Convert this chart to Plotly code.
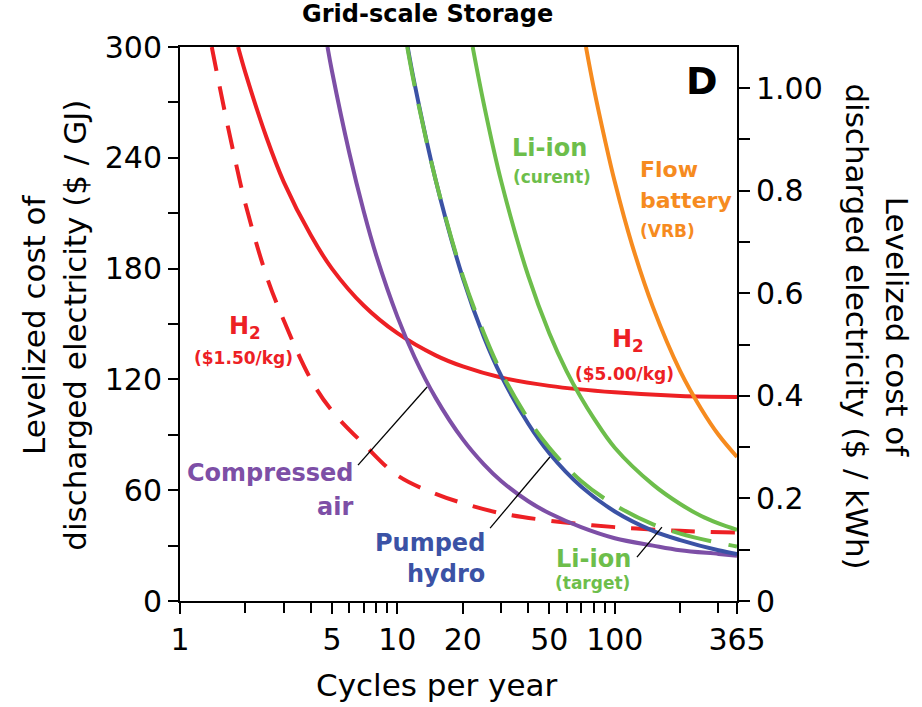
import math
import plotly.graph_objects as go

# ---------------- data ----------------
h2_low_cycles = [1.4, 1.6, 1.8, 2.0, 2.5, 3, 4, 5, 7, 10, 15, 20, 30, 50, 100, 200, 365]
h2_low_cost = [300, 266, 238, 215, 176, 152, 120, 103, 85, 68, 58, 53, 47.5, 43.5, 40, 38, 37]

h2_high_cycles = [1.85, 2, 2.5, 3, 4, 5, 7, 10, 15, 20, 30, 50, 100, 200, 365]
h2_high_cost = [300, 286, 251, 227, 198, 180, 160, 145, 133, 127, 121, 116.5, 113, 111, 110.5]

caes_cycles = [4.77, 5, 6, 7, 8, 10, 12, 15, 20, 25, 30, 40, 50, 70, 100, 150, 200, 300, 365]
caes_cost = [300, 287, 243, 211, 187, 154, 132, 110, 87.5, 74, 65, 54, 47.5, 40, 34, 30, 27.5, 25.5, 24.5]

hydro_cycles = [11.15, 12, 15, 20, 25, 30, 40, 50, 70, 100, 150, 200, 300, 365]
hydro_cost = [300, 280, 228, 175, 143, 122, 96, 80, 62, 48.5, 38, 33, 27.5, 25.5]

li_target_cycles = [11.1, 12, 15, 20, 25, 30, 40, 50, 70, 100, 150, 200, 300, 365]
li_target_cost = [300, 279, 228, 176, 145, 124, 98.5, 83, 65, 52, 41.5, 36.5, 31.5, 29.5]

li_current_cycles = [22.2, 25, 30, 40, 50, 60, 70, 80, 100, 150, 200, 250, 300, 365]
li_current_cost = [300, 269, 227.5, 176, 145, 124.5, 110, 99, 83, 63, 52.5, 46, 42, 38.5]

flow_cycles = [73.7, 80, 90, 100, 120, 150, 200, 250, 300, 365]
flow_cost = [300, 278, 250, 227, 193, 159, 124.5, 104, 90, 78]

x_tick_vals = [1, 5, 10, 20, 50, 100, 365]
x_tick_text = ["1", "5", "10", "20", "50", "100", "365"]
x_minor_vals = [2, 3, 4, 6, 7, 8, 9, 30, 40, 60, 70, 80, 90, 200, 300]
y_tick_vals = [0, 60, 120, 180, 240, 300]
y2_tick_vals = [0, 0.2, 0.4, 0.6, 0.8, 1.0]
y2_tick_text = ["0", "0.2", "0.4", "0.6", "0.8", "1.00"]
GJ_PER_KWH = 1 / 277.78  # $/GJ -> $/kWh

# leader lines (data coords)
leader_caes = ([6.59, 13.7], [73.6, 115.9])
leader_hydro = ([26.7, 50.3], [39.5, 78])
leader_target = ([126.5, 164.8], [23.8, 40])

RED = "#ED2024"
PURPLE = "#7D4FA6"
BLUE = "#3B52A5"
GREEN = "#6DBE4B"
ORANGE = "#F68B1F"
FONT = "DejaVu Sans"

fig = go.Figure()

def curve(x, y, color, dash=None):
    fig.add_trace(go.Scatter(
        x=x, y=y, mode="lines", line=dict(color=color, width=4, shape="spline", dash=dash),
        showlegend=False, hoverinfo="skip"))

curve(h2_low_cycles, h2_low_cost, RED, "24px,16px")
curve(h2_high_cycles, h2_high_cost, RED)
curve(caes_cycles, caes_cost, PURPLE)
curve(hydro_cycles, hydro_cost, BLUE)
curve(li_target_cycles, li_target_cost, GREEN, "40px,18px")
curve(li_current_cycles, li_current_cost, GREEN)
curve(flow_cycles, flow_cost, ORANGE)

for lx, ly in (leader_caes, leader_hydro, leader_target):
    fig.add_trace(go.Scatter(x=lx, y=ly, mode="lines", line=dict(color="black", width=1.3),
                             showlegend=False, hoverinfo="skip"))

# invisible trace to register right axis
fig.add_trace(go.Scatter(x=[1], y=[0], yaxis="y2", mode="markers", marker=dict(opacity=0),
                         showlegend=False, hoverinfo="skip"))

# labels: (text, cycles, cost, color, size, xanchor)
labels = [
    ("H<sub>2</sub>", 1.99, 148, RED, 24, "center"),
    ("($1.50/kg)", 1.95, 131.6, RED, 17, "center"),
    ("H<sub>2</sub>", 115, 141, RED, 24, "center"),
    ("($5.00/kg)", 111.4, 122.9, RED, 17, "center"),
    ("Li-ion", 50.3, 245.3, GREEN, 24, "center"),
    ("(curent)", 51.4, 229.6, GREEN, 17, "center"),
    ("Flow", 128.5, 233.5, ORANGE, 22, "left"),
    ("battery", 128.5, 217, ORANGE, 22, "left"),
    ("(VRB)", 128.5, 200.3, ORANGE, 17, "left"),
    ("Compressed", 6.38, 69.3, PURPLE, 24, "right"),
    ("air", 6.38, 50.9, PURPLE, 24, "right"),
    ("Pumped", 25.8, 31.4, BLUE, 24, "right"),
    ("hydro", 25.8, 14.6, BLUE, 24, "right"),
    ("Li-ion", 80.2, 22.7, GREEN, 24, "center"),
    ("(target)", 79.4, 9.7, GREEN, 17, "center"),
    ("D", 251.8, 281.5, "black", 38, "center"),
]
annotations = []
for text, cx, cy, col, size, xa in labels:
    annotations.append(dict(
        text=f"<b>{text}</b>", x=math.log10(cx), y=cy, xref="x", yref="y",
        showarrow=False, xanchor=xa, yanchor="middle",
        font=dict(family=FONT, size=size, color=col)))

annotations += [
    dict(text="<b>Grid-scale Storage</b>", x=0.445, y=1.06, xref="paper", yref="paper",
         showarrow=False, xanchor="center", yanchor="middle",
         font=dict(family=FONT, size=24, color="black")),
    dict(text="Cycles per year", x=0.46, y=-0.152, xref="paper", yref="paper",
         showarrow=False, xanchor="center", yanchor="middle",
         font=dict(family=FONT, size=31, color="black")),
    dict(text="Levelized cost of<br>discharged electricity ($ / GJ)", x=-0.226, y=0.497,
         xref="paper", yref="paper", showarrow=False, textangle=-90,
         xanchor="center", yanchor="middle", font=dict(family=FONT, size=31, color="black")),
    dict(text="Levelized cost of<br>discharged electricity ($ / kWh)", x=1.252, y=0.495,
         xref="paper", yref="paper", showarrow=False, textangle=90,
         xanchor="center", yanchor="middle", font=dict(family=FONT, size=31, color="black")),
]

axis_common = dict(showline=True, linewidth=2, linecolor="black", ticks="outside",
                   tickwidth=2, tickcolor="black", showgrid=False, zeroline=False,
                   tickfont=dict(family=FONT, size=30, color="black"))

fig.update_layout(
    width=922, height=707, autosize=False,
    margin=dict(l=180, r=185, t=47, b=106),
    paper_bgcolor="white", plot_bgcolor="white",
    xaxis=dict(type="log", range=[0, math.log10(365)], tickmode="array",
               tickvals=x_tick_vals, ticktext=x_tick_text, mirror=True, ticklen=11,
               minor=dict(tickvals=x_minor_vals, ticks="outside", ticklen=10, tickwidth=2,
                          tickcolor="black"),
               **axis_common),
    yaxis=dict(range=[0, 300], tickmode="array", tickvals=y_tick_vals, ticklen=10,
               minor=dict(dtick=30, ticks="outside", ticklen=10, tickwidth=2, tickcolor="black"),
               **axis_common),
    yaxis2=dict(overlaying="y", side="right", range=[0, 300 * GJ_PER_KWH], tickmode="array",
                tickvals=y2_tick_vals, ticktext=y2_tick_text, ticklen=11,
                minor=dict(dtick=0.1, ticks="outside", ticklen=11, tickwidth=2, tickcolor="black"),
                **axis_common),
    annotations=annotations,
)

fig.write_html("out.html")
